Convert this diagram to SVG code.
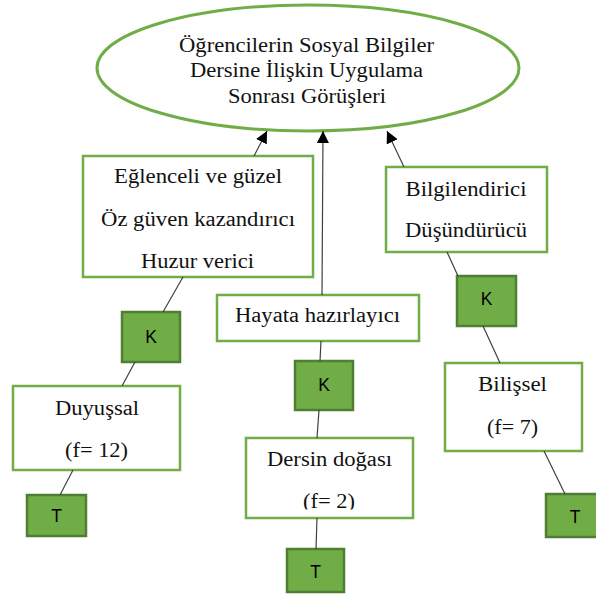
<svg xmlns="http://www.w3.org/2000/svg" width="596" height="594" viewBox="0 0 596 594">
<defs>
<style>
.box{fill:#ffffff;stroke:#70AD47;stroke-width:2.5}
.code{fill:#70AD47;stroke:#507E32;stroke-width:2.5}
.t{font-family:"Liberation Serif","Times New Roman",serif;font-size:20px;fill:#111111;text-anchor:middle}
.c{font-family:"Liberation Sans",Arial,sans-serif;font-size:17.5px;fill:#000000;text-anchor:middle}
.ln{stroke:#404040;stroke-width:1.2;fill:none}
.ar{stroke:#404040;stroke-width:1.2;fill:none;marker-end:url(#ah)}
</style>
<marker id="ah" markerUnits="userSpaceOnUse" markerWidth="12" markerHeight="12" viewBox="0 0 12 12" refX="12" refY="6" orient="auto">
<path d="M0,0 L12,6 L0,12 z" fill="#000000"/>
</marker>
<clipPath id="clipD"><rect x="246" y="438" width="167" height="71.5"/></clipPath>
</defs>

<g id="root">
<ellipse cx="308" cy="68" rx="211" ry="63" fill="#ffffff" stroke="#70AD47" stroke-width="3"/>
<text class="t" x="306.5" y="52" textLength="255" lengthAdjust="spacingAndGlyphs">Öğrencilerin Sosyal Bilgiler</text>
<text class="t" x="306.5" y="77" textLength="233" lengthAdjust="spacingAndGlyphs">Dersine İlişkin Uygulama</text>
<text class="t" x="307" y="103" textLength="158" lengthAdjust="spacingAndGlyphs">Sonrası Görüşleri</text>
</g>

<g id="duyussal-themes">
<rect class="box" x="83" y="156" width="230" height="121"/>
<text class="t" x="198" y="183" textLength="168" lengthAdjust="spacingAndGlyphs">Eğlenceli ve güzel</text>
<text class="t" x="198" y="226" textLength="194" lengthAdjust="spacingAndGlyphs">Öz güven kazandırıcı</text>
<text class="t" x="197.5" y="268" textLength="113" lengthAdjust="spacingAndGlyphs">Huzur verici</text>
</g>

<g id="hayata">
<rect class="box" x="217" y="295" width="202" height="46"/>
<text class="t" x="317.5" y="322" textLength="165" lengthAdjust="spacingAndGlyphs">Hayata hazırlayıcı</text>
</g>

<g id="bilissel-themes">
<rect class="box" x="386" y="167" width="161" height="85"/>
<text class="t" x="466" y="195.5" textLength="121" lengthAdjust="spacingAndGlyphs">Bilgilendirici</text>
<text class="t" x="466" y="237" textLength="122" lengthAdjust="spacingAndGlyphs">Düşündürücü</text>
</g>

<g id="k-left">
<rect class="code" x="122" y="312" width="58" height="50"/>
<text class="c" x="151" y="343">K</text>
</g>

<g id="k-mid">
<rect class="code" x="295" y="361" width="58" height="49"/>
<text class="c" x="324" y="391">K</text>
</g>

<g id="k-right">
<rect class="code" x="457" y="276" width="59" height="50"/>
<text class="c" x="486.5" y="305">K</text>
</g>

<g id="duyussal">
<rect class="box" x="13" y="386" width="167" height="84"/>
<text class="t" x="97" y="414.5" textLength="84" lengthAdjust="spacingAndGlyphs">Duyuşsal</text>
<text class="t" x="96.5" y="457" textLength="63" lengthAdjust="spacingAndGlyphs">(f= 12)</text>
</g>

<g id="dersin-dogasi">
<rect class="box" x="246" y="438" width="167" height="80"/>
<text class="t" x="329.5" y="466" textLength="125" lengthAdjust="spacingAndGlyphs">Dersin doğası</text>
<text class="t" x="329" y="508" textLength="52" lengthAdjust="spacingAndGlyphs" clip-path="url(#clipD)">(f= 2)</text>
</g>

<g id="bilissel">
<rect class="box" x="445" y="363" width="137" height="88"/>
<text class="t" x="512.5" y="391" textLength="69" lengthAdjust="spacingAndGlyphs">Bilişsel</text>
<text class="t" x="512.5" y="434" textLength="51" lengthAdjust="spacingAndGlyphs">(f= 7)</text>
</g>

<g id="t-left">
<rect class="code" x="27" y="495" width="59" height="41"/>
<text class="c" x="56.5" y="522">T</text>
</g>

<g id="t-mid">
<rect class="code" x="287" y="549" width="57" height="43"/>
<text class="c" x="315.5" y="578">T</text>
</g>

<g id="t-right">
<rect class="code" x="546" y="494" width="58" height="43"/>
<text class="c" x="575" y="523">T</text>
</g>

<g id="connectors">
<line class="ar" x1="254" y1="156" x2="267" y2="131"/>
<line class="ar" x1="322" y1="295" x2="323" y2="131"/>
<line class="ar" x1="404" y1="167" x2="387" y2="131"/>
<line class="ln" x1="183" y1="277" x2="163" y2="312"/>
<line class="ln" x1="135" y1="362" x2="122" y2="386"/>
<line class="ln" x1="73" y1="470" x2="60" y2="495"/>
<line class="ln" x1="321" y1="341" x2="320" y2="361"/>
<line class="ln" x1="319" y1="410" x2="317" y2="438"/>
<line class="ln" x1="317" y1="518" x2="316" y2="549"/>
<line class="ln" x1="447" y1="252" x2="458" y2="276"/>
<line class="ln" x1="483" y1="326" x2="500" y2="363"/>
<line class="ln" x1="544" y1="451" x2="565" y2="494"/>
</g>
</svg>
